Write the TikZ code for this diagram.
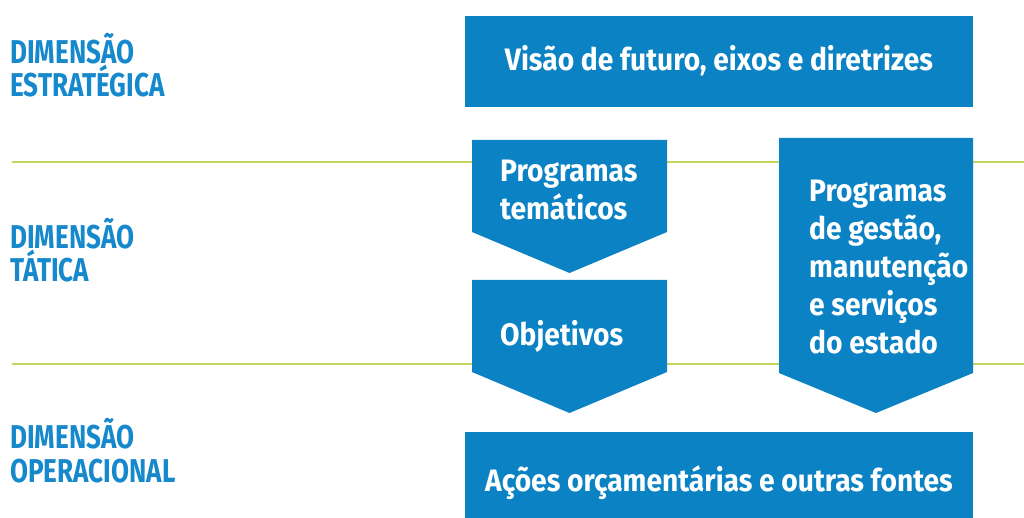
\documentclass[tikz,border=0pt]{standalone}
\usepackage{fontspec}
\newfontfamily\dinfont[FakeStretch=0.91]{Fira Sans}
\newfontfamily\dinlbl[FakeStretch=0.79]{Fira Sans}
\definecolor{boxblue}{RGB}{10,130,196}
\definecolor{lblblue}{RGB}{22,136,204}
\definecolor{linegreen}{RGB}{198,212,92}
\tikzset{
  bluebox/.style={fill=boxblue, draw=none},
  boxtext/.style={text=white, inner sep=0pt, font=\dinfont\bfseries\fontsize{31}{38}\selectfont, align=left},
  lbltext/.style={text=lblblue, inner sep=0pt, font=\dinlbl\bfseries\fontsize{33}{33.5}\selectfont, align=left},
  divider/.style={draw=linegreen, line width=2.4pt}
}
\begin{document}
\begin{tikzpicture}[x=1pt,y=-1pt]
\useasboundingbox (0,0) rectangle (1024,518);
% dividers
\coordinate (l1a) at (12,162);
\coordinate (l1b) at (1024,162);
\coordinate (l2a) at (12,364);
\coordinate (l2b) at (1024,364);
\draw[divider] (l1a) -- (l1b);
\draw[divider] (l2a) -- (l2b);
% top box
\node[bluebox, minimum width=508pt, minimum height=91pt, inner sep=0pt] (top) at (719,61.5) {};
\node[boxtext, anchor=base] (toptext) at (719,71) {Visão de futuro, eixos e diretrizes};
% bottom box
\node[bluebox, minimum width=508pt, minimum height=86pt, inner sep=0pt] (bottom) at (719,475) {};
\node[boxtext, anchor=base] (bottomtext) at (719,491) {Ações orçamentárias e outras fontes};
% pentagons
\fill[boxblue] (472,140) -- (667,140) -- (667,232) -- (569.5,273) -- (472,232) -- cycle;
\fill[boxblue] (472,280) -- (667,280) -- (667,372) -- (569.5,413) -- (472,372) -- cycle;
\fill[boxblue] (779,138) -- (973,138) -- (973,373) -- (876,413) -- (779,373) -- cycle;
\node[boxtext, anchor=base west] (prog1) at (500,220) {Programas\\temáticos};
\node[boxtext, anchor=base west] (obj) at (500,345) {Objetivos};
\node[boxtext, anchor=base west] (prog2) at (809,353) {Programas\\de gestão,\\manutenção\\e serviços\\do estado};
% labels
\node[lbltext, anchor=base west] (d1) at (10,97) {DIMENSÃO\\ESTRATÉGICA};
\node[lbltext, anchor=base west] (d2) at (10,282) {DIMENSÃO\\TÁTICA};
\node[lbltext, anchor=base west] (d3) at (10,482) {DIMENSÃO\\OPERACIONAL};
\end{tikzpicture}
\end{document}
